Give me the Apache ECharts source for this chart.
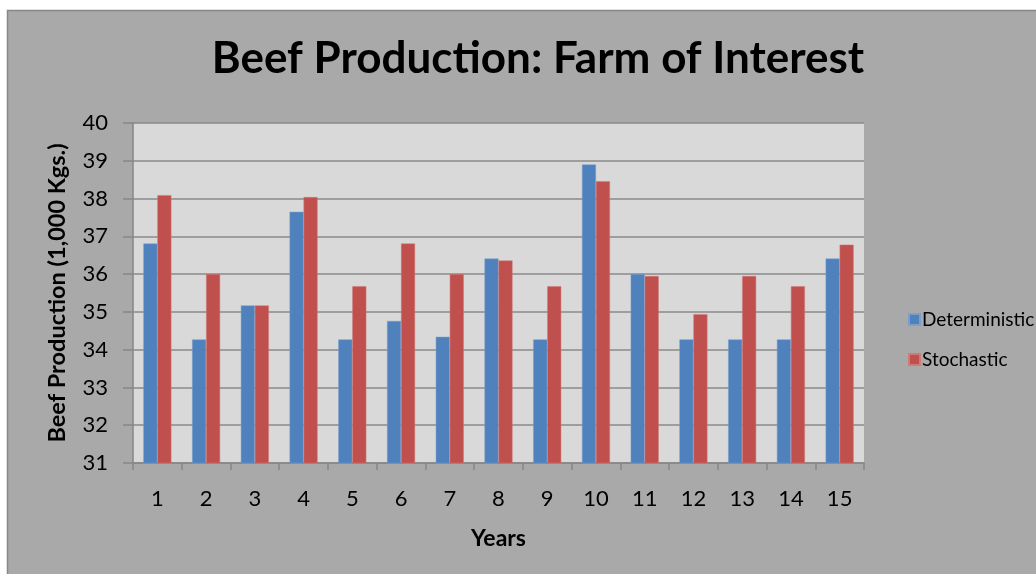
<!DOCTYPE html>
<html>
<head>
<meta charset="utf-8">
<script src="https://cdn.jsdelivr.net/npm/echarts@6/dist/echarts.min.js"></script>
<style>
html,body{margin:0;padding:0;background:#fff;}
#c{width:1036px;height:574px;}
</style>
</head>
<body>
<div id="c"></div>
<script>
const categories = ['1','2','3','4','5','6','7','8','9','10','11','12','13','14','15'];
const deterministic = [36.81, 34.27, 35.17, 37.65, 34.27, 34.76, 34.34, 36.41, 34.27, 38.90, 36.00, 34.27, 34.27, 34.27, 36.41];
const stochastic = [38.09, 36.00, 35.17, 38.04, 35.68, 36.81, 36.00, 36.36, 35.68, 38.46, 35.95, 34.94, 35.95, 35.68, 36.78];
const seriesNames = ['Deterministic', 'Stochastic'];
const yMin = 31, yMax = 40, yStep = 1;

const FONT = 'Lato, "Open Sans", sans-serif';
const chart = echarts.init(document.getElementById('c'));
chart.setOption({
  backgroundColor: '#ffffff',
  animation: false,
  graphic: [{
    type: 'rect', z: -10, silent: true,
    shape: {x: 7.5, y: 10.5, width: 1040, height: 580},
    style: {fill: '#a9a9a9', stroke: '#888888', lineWidth: 1.5}
  }],
  title: {
    text: 'Beef Production: Farm of Interest',
    left: 533, top: 32, textAlign: 'center',
    textStyle: {fontFamily: FONT, fontWeight: 'bold', fontSize: 44, color: '#000'}
  },
  legend: {
    orient: 'vertical', left: 903, top: 305,
    itemWidth: 11, itemHeight: 11, itemGap: 21,
    icon: 'rect',
    textStyle: {fontFamily: FONT, fontSize: 19, color: '#000', padding: [0,0,0,-3]},
    data: seriesNames
  },
  grid: {left: 133, top: 123, right: 172, bottom: 111, show: true, backgroundColor: '#d9d9d9', borderWidth: 0},
  xAxis: {
    type: 'category', data: categories,
    name: 'Years', nameLocation: 'middle', nameGap: 64,
    nameTextStyle: {fontFamily: FONT, fontWeight: 'bold', fontSize: 23, color: '#000'},
    axisLine: {lineStyle: {color: '#868686', width: 1.5}},
    axisTick: {show: true, length: 7, lineStyle: {color: '#868686', width: 1.5}},
    axisLabel: {fontFamily: FONT, fontSize: 22, color: '#000', margin: 25}
  },
  yAxis: {
    type: 'value', min: yMin, max: yMax, interval: yStep,
    name: 'Beef Production (1,000 Kgs.)', nameLocation: 'middle', nameGap: 64,
    nameTextStyle: {fontFamily: FONT, fontWeight: 'bold', fontSize: 23.5, color: '#000'},
    axisLine: {show: true, lineStyle: {color: '#868686', width: 1.5}},
    axisTick: {show: true, length: 10, lineStyle: {color: '#868686', width: 1.5}},
    axisLabel: {fontFamily: FONT, fontSize: 22, color: '#000', margin: 25},
    splitLine: {lineStyle: {color: '#8a8a8a', width: 1.5}}
  },
  series: [
    {name: seriesNames[0], type: 'bar', data: deterministic, barWidth: 14, barGap: '0%',
     itemStyle: {color: '#4f81bd', borderColor: '#7a9fcf', borderWidth: 0.5}},
    {name: seriesNames[1], type: 'bar', data: stochastic, barWidth: 14, barGap: '0%',
     itemStyle: {color: '#c0504d', borderColor: '#d07a78', borderWidth: 0.5}}
  ]
});
</script>
</body>
</html>
